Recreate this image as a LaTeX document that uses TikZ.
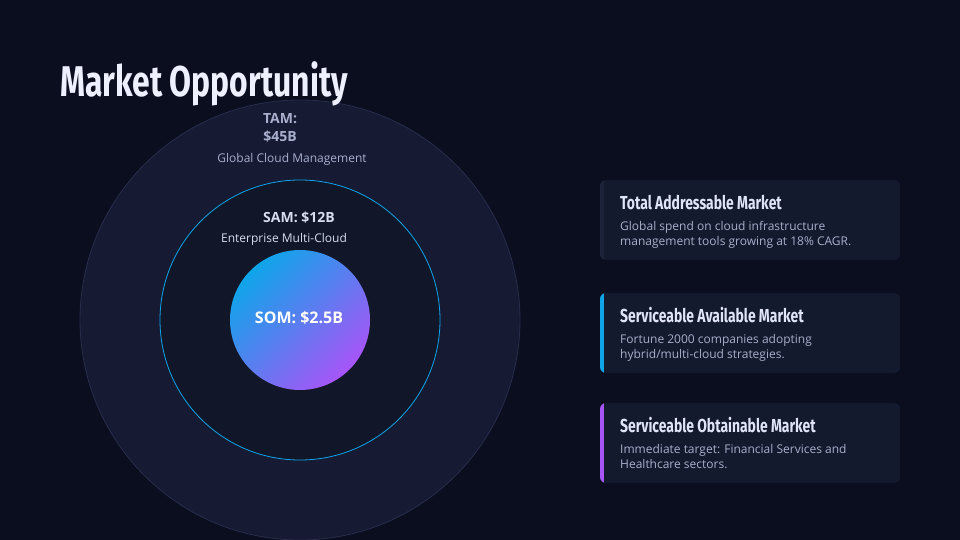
\documentclass[tikz,border=0pt]{standalone}
\usepackage{fontspec}
\setmainfont{Open Sans}
\newfontfamily\titlefont[FakeStretch=0.74]{Fira Sans}
\newfontfamily\bodyfont{Open Sans}
\definecolor{bg}{HTML}{0A0E1F}
\definecolor{tamfill}{HTML}{161B33}
\definecolor{tamline}{HTML}{272D4A}
\definecolor{samfill}{HTML}{111628}
\definecolor{samline}{HTML}{0EA5E9}
\definecolor{somA}{HTML}{0EA5E9}
\definecolor{somB}{HTML}{A855F7}
\definecolor{cardfill}{HTML}{141A2E}
\definecolor{cardedge}{HTML}{1C2238}
\definecolor{titlecol}{HTML}{EEF0FF}
\definecolor{headcol}{HTML}{E0E4F8}
\definecolor{desccol}{HTML}{A8AEC8}
\definecolor{tamtext}{HTML}{A8AECB}
\definecolor{samtext}{HTML}{D8DCF0}
\tikzset{
  ttl/.style={anchor=base west, inner sep=0pt, text=titlecol, font=\titlefont\bfseries\fontsize{43}{46}\selectfont},
  cardhead/.style={anchor=base west, inner sep=0pt, text=headcol, font=\titlefont\bfseries\fontsize{18.8}{22}\selectfont},
  carddesc/.style={anchor=north west, inner sep=0pt, text=desccol, align=left, font=\bodyfont\fontsize{12}{15}\selectfont},
  circbig/.style={inner sep=0pt, font=\bodyfont\bfseries\fontsize{14}{17}\selectfont},
  circsmall/.style={inner sep=0pt, font=\bodyfont\fontsize{12}{14}\selectfont},
}
\begin{document}
\begin{tikzpicture}[x=1pt,y=-1pt]
\useasboundingbox (0,0) rectangle (960,540);
\fill[bg] (0,0) rectangle (960,540);
% circles
\begin{scope}
\clip (0,0) rectangle (960,540);
\draw[fill=tamfill, draw=tamline, line width=0.8pt] (300,320) circle[radius=220];
\end{scope}
\draw[fill=samfill, draw=samline, line width=0.8pt] (300,320) circle[radius=140];
\shade[top color=somA, bottom color=somB, shading angle=45] (300,320) circle[radius=70];
% title
\node[ttl] (title) at (60,97) {Market Opportunity};
% circle labels
\node[circbig, text=tamtext, align=center, font=\bodyfont\bfseries\fontsize{14}{18}\selectfont] (tam) at (280,128) {TAM:\\\$45B};
\node[circsmall, text=tamtext] (tamsub) at (292,159) {Global Cloud Management};
\node[circbig, text=samtext] (sam) at (299,218) {SAM: \$12B};
\node[circsmall, text=samtext] (samsub) at (284,239) {Enterprise Multi-Cloud};
\node[circbig, text=white, font=\bodyfont\bfseries\fontsize{16}{19}\selectfont] (som) at (299,318) {SOM: \$2.5B};
% cards
\foreach \y/\edge/\name in {180/cardedge/c1, 293/samline/c2, 403/somB/c3}{
  \begin{scope}
    \clip[rounded corners=6pt] (600,\y) rectangle (900,\y+80);
    \fill[cardfill] (600,\y) rectangle (900,\y+80);
    \fill[\edge] (600,\y) rectangle (604,\y+80);
  \end{scope}
}
\node[cardhead] (h1) at (620,209) {Total Addressable Market};
\node[carddesc] (d1) at (620,221) {Global spend on cloud infrastructure\\management tools growing at 18\% CAGR.};
\node[cardhead] (h2) at (620,322) {Serviceable Available Market};
\node[carddesc] (d2) at (620,334) {Fortune 2000 companies adopting\\hybrid/multi-cloud strategies.};
\node[cardhead] (h3) at (620,432) {Serviceable Obtainable Market};
\node[carddesc] (d3) at (620,444) {Immediate target: Financial Services and\\Healthcare sectors.};
\end{tikzpicture}
\end{document}
